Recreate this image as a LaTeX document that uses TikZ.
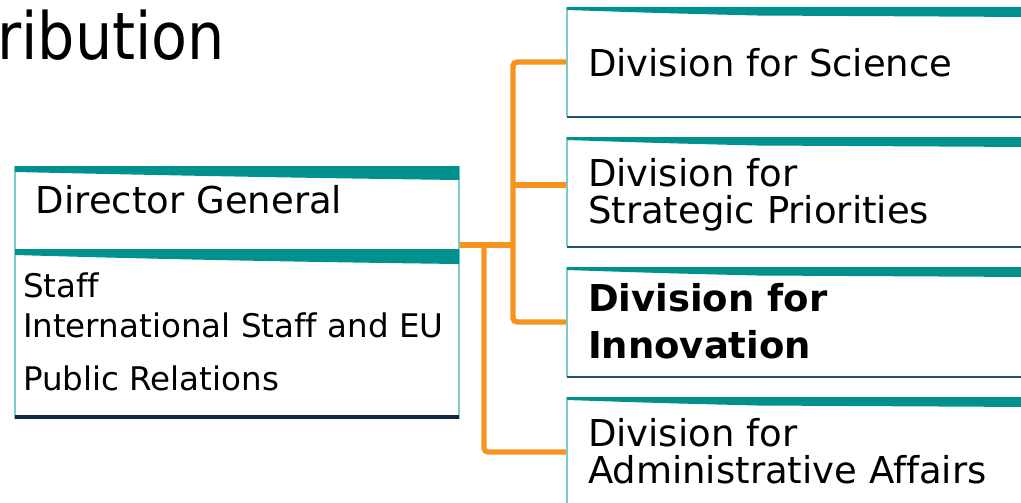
\documentclass[tikz,border=0pt]{standalone}
\usepackage{fontspec}
\setmainfont[Ligatures=CommonOff]{DejaVu Sans}
\newfontfamily\titlefont{DejaVu Sans Condensed}
\usetikzlibrary{fit}
\definecolor{tealbar}{HTML}{00918E}
\definecolor{tealside}{HTML}{7FCAC7}
\definecolor{navyline}{HTML}{0B2A45}
\definecolor{boxline}{HTML}{1E5570}
\definecolor{orng}{HTML}{F7931E}
\begin{document}
\begin{tikzpicture}[x=0.75pt,y=-0.75pt,
  frame/.style={inner sep=0pt, outer sep=0pt, draw=none},
  link/.style={draw=orng, line width=4pt, rounded corners=3pt},
  sideline/.style={draw=tealside, line width=1.5pt},
  bottomline/.style={draw=boxline, line width=1.6pt},
  bar/.style={fill=tealbar, draw=none},
  txt/.style={anchor=base west, inner sep=0pt, outer sep=0pt, font=\fontsize{27.75}{27.75}\selectfont},
  smalltxt/.style={anchor=base west, inner sep=0pt, outer sep=0pt, font=\fontsize{24.4}{24.4}\selectfont},
  boldtxt/.style={txt, font=\fontsize{27.75}{27.75}\selectfont\bfseries}]
\useasboundingbox (0,0) rectangle (1021,503);
\clip (0,0) rectangle (1021,503);
\fill[white] (0,0) rectangle (1021,503);

% title fragment
\node[anchor=base west, inner sep=0pt, font=\titlefont\fontsize{49}{49}\selectfont] (title) at (-3,60) {ribution};

% frames (named)
\node[frame, fit={(15,166) (459,419)}] (dg) {};
\node[frame, fit={(567,7) (1030,117)}] (b1) {};
\node[frame, fit={(567,137) (1030,247)}] (b2) {};
\node[frame, fit={(567,267) (1030,377)}] (b3) {};
\node[frame, fit={(567,397) (1030,507)}] (b4) {};

% junction coordinates
\coordinate (j1) at (513,245);
\coordinate (j2) at (484,245);
\coordinate (j3) at (513,185);

% connectors
\draw[link] (b1.west) -| (j1) |- (b3.west);
\draw[link] (j3) -- (b2.west |- j3);
\draw[link] (dg.east |- j1) -- (j1);
\draw[link] (j2) |- (b4.west);

% Director General box
\draw[sideline] (dg.north west) -- (dg.south west);
\draw[sideline] (dg.north east) -- (dg.south east);
\draw[draw=navyline, line width=3pt] ([yshift=1.5pt]dg.south west) -- ([yshift=1.5pt]dg.south east);
\path[bar] (15,166) -- (459,166) -- (459,180) .. controls (300,178) and (150,175) .. (15,172) -- cycle;
\path[bar] (15,249) -- (459,249) -- (459,264) .. controls (300,262) and (150,259) .. (15,255) -- cycle;

% right boxes
\foreach \b in {b1,b2,b3,b4}{
  \draw[sideline] (\b.north west) -- (\b.south west);
  \draw[bottomline] (\b.south west) -- (\b.south east);
  \path[bar] (\b.north west) -- (\b.north east) -- ([yshift=-10*0.75pt]\b.north east)
     -- ([xshift=190*0.75pt,yshift=-8.5*0.75pt]\b.north west)
     .. controls ([xshift=90*0.75pt,yshift=-6*0.75pt]\b.north west) .. ([yshift=-3*0.75pt]\b.north west) -- cycle;
}

% texts
\node[txt] (dgname) at (36,213) {Director General};
\node[smalltxt] (staff) at (23,297) {Staff};
\node[smalltxt] (intl) at (23,337) {International Staff and EU};
\node[smalltxt] (pr) at (23,390) {Public Relations};

\node[txt] (t1) at (588,77) {Division for Science};
\node[txt] (t2a) at (588,186) {Division for};
\node[txt] (t2b) at (588,223) {Strategic Priorities};
\node[boldtxt] (t3a) at (588,311) {Division for};
\node[boldtxt] (t3b) at (588,358) {Innovation};
\node[txt] (t4a) at (588,446) {Division for};
\node[txt] (t4b) at (588,483) {Administrative Affairs};
\end{tikzpicture}
\end{document}
